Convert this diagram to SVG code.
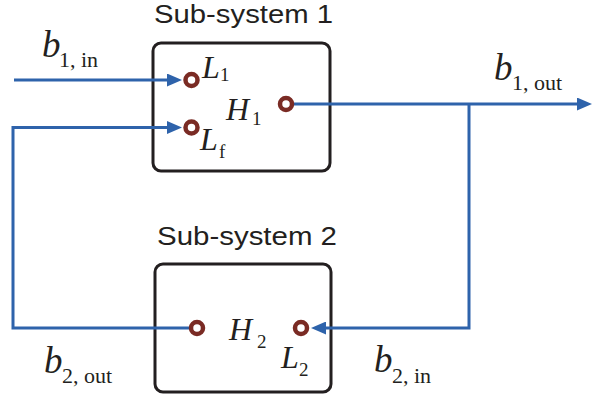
<svg xmlns="http://www.w3.org/2000/svg" width="611" height="401" viewBox="0 0 611 401">
<defs>
<style>
.box{fill:#fff;stroke:#231f20;stroke-width:3}
.port{fill:#fff;stroke:#7a2b24;stroke-width:4.5}
.wire{fill:none;stroke:#2e63ab;stroke-width:3}
.title{font-family:"Liberation Sans",Arial,sans-serif;font-size:26px;fill:#231f20}
.var{font-family:"Liberation Serif","Times New Roman",serif;font-style:italic;fill:#231f20}
.sub{font-family:"Liberation Serif","Times New Roman",serif;fill:#231f20}
.b{font-size:37px}
.bs{font-size:22px}
.v{font-size:32px}
.vs{font-size:19px}
</style>
<marker id="arr" markerUnits="userSpaceOnUse" markerWidth="15" markerHeight="13" refX="0" refY="6.5" orient="auto">
<path d="M0,0 L15,6.5 L0,13 z" fill="#2e63ab"/>
</marker>
</defs>

<g id="subsystem1">
<text class="title" x="154" y="23" textLength="179" lengthAdjust="spacingAndGlyphs">Sub-system 1</text>
<rect class="box" x="153" y="43" width="177" height="128" rx="8"/>
</g>
<g id="subsystem2">
<text class="title" x="157" y="245" textLength="180" lengthAdjust="spacingAndGlyphs">Sub-system 2</text>
<rect class="box" x="155" y="264" width="176" height="128" rx="8"/>
</g>

<g id="connectors">
<path class="wire" d="M14,80 H167" marker-end="url(#arr)"/>
<path class="wire" d="M197,328 H13 V127.5 H167" marker-end="url(#arr)"/>
<path class="wire" d="M286,104 H577" marker-end="url(#arr)"/>
<path class="wire" d="M469,104 V328 H326" marker-end="url(#arr)"/>
</g>

<g id="port-L1">
<circle class="port" cx="191.5" cy="80" r="6"/>
<text class="var v" x="202" y="78">L</text><text class="sub vs" x="220" y="81">1</text>
</g>
<g id="port-Lf">
<circle class="port" cx="191.5" cy="127.5" r="6"/>
<text class="var v" x="200" y="150">L</text><text class="sub vs" x="219" y="158">f</text>
</g>
<g id="port-H1">
<circle class="port" cx="286" cy="104" r="6"/>
<text class="var v" x="226" y="120">H</text><text class="sub vs" x="252" y="125">1</text>
</g>
<g id="port-H2">
<circle class="port" cx="197" cy="328" r="6"/>
<text class="var v" x="229" y="340">H</text><text class="sub vs" x="257" y="348">2</text>
</g>
<g id="port-L2">
<circle class="port" cx="301" cy="328" r="6"/>
<text class="var v" x="281" y="368">L</text><text class="sub vs" x="299" y="376">2</text>
</g>

<g id="labels">
<text class="var b" x="42" y="57">b</text><text class="sub bs" x="59" y="67">1, in</text>
<text class="var b" x="494" y="80">b</text><text class="sub bs" x="512" y="90">1, out</text>
<text class="var b" x="44" y="373">b</text><text class="sub bs" x="62" y="383">2, out</text>
<text class="var b" x="374" y="372">b</text><text class="sub bs" x="392" y="383">2, in</text>
</g>
</svg>
